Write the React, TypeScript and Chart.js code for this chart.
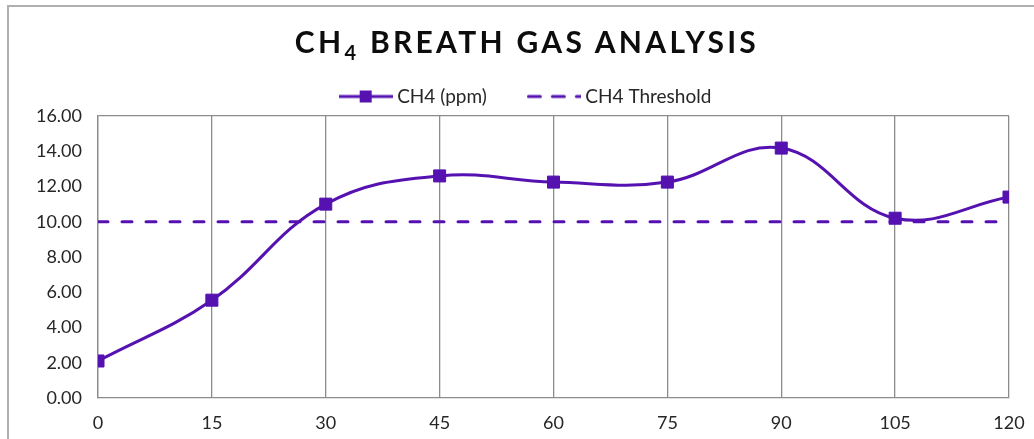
import React, { useEffect, useRef } from "react";
import { Chart, registerables } from "chart.js";

Chart.register(...registerables);

const timePoints = [0, 15, 30, 45, 60, 75, 90, 105, 120];
const ch4Values = [2.1, 5.55, 11.0, 12.6, 12.25, 12.25, 14.18, 10.2, 11.4];
const thresholdValues = [10, 10, 10, 10, 10, 10, 10, 10, 10];
const seriesLabels = ["CH4 (ppm)", "CH4 Threshold"];
const yMin = 0;
const yMax = 16;
const yStep = 2;
const xMin = 0;
const xMax = 120;
const xStep = 15;

const PURPLE = "#5512b0";
const FONT = '"Century Gothic", Lato, sans-serif';
const TEXT = "#262626";
const GRID = "#8c8c8c";

function makeLineMarkerImage(): HTMLCanvasElement {
  const c = document.createElement("canvas");
  c.width = 54;
  c.height = 14;
  const ctx = c.getContext("2d")!;
  ctx.strokeStyle = PURPLE;
  ctx.lineWidth = 3;
  ctx.beginPath();
  ctx.moveTo(0, 7);
  ctx.lineTo(54, 7);
  ctx.stroke();
  ctx.fillStyle = PURPLE;
  ctx.fillRect(21, 1, 12, 12);
  return c;
}

function makeDashImage(): HTMLCanvasElement {
  const c = document.createElement("canvas");
  c.width = 54;
  c.height = 14;
  const ctx = c.getContext("2d")!;
  ctx.strokeStyle = PURPLE;
  ctx.lineWidth = 3;
  ctx.lineCap = "round";
  ctx.setLineDash([12, 12]);
  ctx.beginPath();
  ctx.moveTo(1.5, 7);
  ctx.lineTo(54, 7);
  ctx.stroke();
  return c;
}

const legendShift = {
  id: "legendShift",
  afterLayout(chart: any) {
    if (chart.legend) {
      chart.legend.left += 13;
      chart.legend.right += 13;
    }
  },
};

export default function App() {
  const canvasRef = useRef<HTMLCanvasElement | null>(null);

  useEffect(() => {
    if (!canvasRef.current) return;
    const legendImages = [makeLineMarkerImage(), makeDashImage()];
    const chart = new Chart(canvasRef.current, {
      type: "line",
      plugins: [legendShift],
      data: {
        datasets: [
          {
            label: seriesLabels[0],
            data: timePoints.map((x, i) => ({ x, y: ch4Values[i] })),
            borderColor: PURPLE,
            backgroundColor: PURPLE,
            borderWidth: 3,
            tension: 0.4,
            pointStyle: "rect",
            pointRadius: 8.5,
            pointBorderWidth: 1,
            pointBackgroundColor: PURPLE,
            pointBorderColor: PURPLE,
          },
          {
            label: seriesLabels[1],
            data: timePoints.map((x, i) => ({ x, y: thresholdValues[i] })),
            borderColor: PURPLE,
            backgroundColor: PURPLE,
            borderWidth: 3,
            borderDash: [10, 14],
            borderCapStyle: "round",
            pointRadius: 0,
            tension: 0,
          },
        ],
      },
      options: {
        animation: false,
        responsive: false,
        maintainAspectRatio: false,
        layout: { padding: { top: 42, left: 20, right: 25, bottom: 0 } },
        plugins: {
          title: { display: false },
          tooltip: { enabled: false },
          legend: {
            display: true,
            position: "top",
            labels: {
              usePointStyle: true,
              pointStyleWidth: 44,
              padding: 45,
              color: TEXT,
              font: { family: FONT, size: 19 },
              generateLabels: (ch: any) =>
                ch.data.datasets.map((ds: any, i: number) => ({
                  text: ds.label,
                  pointStyle: legendImages[i],
                  fillStyle: PURPLE,
                  strokeStyle: PURPLE,
                  lineWidth: 0,
                  hidden: false,
                  datasetIndex: i,
                  fontColor: TEXT,
                })),
            },
          },
        },
        scales: {
          x: {
            type: "linear",
            min: xMin,
            max: xMax,
            ticks: {
              stepSize: xStep,
              color: TEXT,
              padding: 14,
              font: { family: FONT, size: 18 },
              maxRotation: 0,
            },
            grid: { color: GRID, lineWidth: 1.3, drawTicks: false },
            border: { display: true, color: GRID, width: 1.3 },
            afterFit: (scale: any) => {
              scale.height = 41;
              scale.paddingLeft = 0;
              scale.paddingRight = 0;
            },
          },
          y: {
            min: yMin,
            max: yMax,
            ticks: {
              stepSize: yStep,
              color: TEXT,
              padding: 16,
              font: { family: FONT, size: 18 },
              callback: (v: any) => Number(v).toFixed(2),
            },
            grid: {
              drawTicks: false,
              lineWidth: 1.3,
              color: (c: any) => (c.tick && c.tick.value === yMax ? GRID : "rgba(0,0,0,0)"),
            },
            border: { display: true, color: GRID, width: 1.3 },
            afterFit: (scale: any) => {
              scale.width = 78;
            },
          },
        },
      },
    });
    return () => chart.destroy();
  }, []);

  return (
    <div
      style={{
        position: "absolute",
        left: 0,
        top: 0,
        width: 1034,
        height: 439,
        background: "#fff",
        overflow: "hidden",
      }}
    >
      <div
        style={{
          position: "absolute",
          left: 7,
          top: 5,
          width: 1040,
          height: 450,
          borderTop: "2px solid #b0b0b0",
          borderLeft: "2px solid #b0b0b0",
          boxSizing: "border-box",
        }}
      />
      <canvas
        ref={canvasRef}
        width={1034}
        height={439}
        style={{ position: "absolute", left: 0, top: 0, width: 1034, height: 439 }}
      />
      <div
        style={{
          position: "absolute",
          left: 10,
          top: 23,
          width: 1034,
          textAlign: "center",
          fontFamily: FONT,
          fontWeight: 700,
          fontSize: 30,
          lineHeight: "36px",
          letterSpacing: 3.3,
          color: "#0d0d0d",
          whiteSpace: "nowrap",
        }}
      >
        CH<span style={{ fontSize: 20, position: "relative", top: 7 }}>4</span> BREATH GAS ANALYSIS
      </div>
    </div>
  );
}
